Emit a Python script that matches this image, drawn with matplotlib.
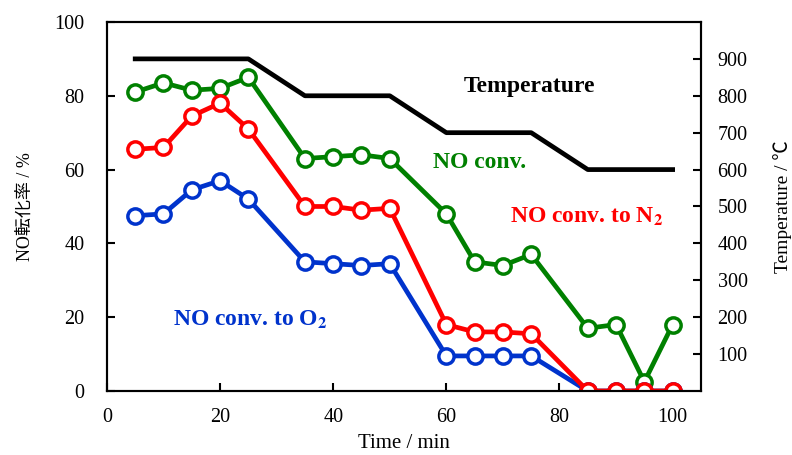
import numpy as np
import matplotlib.pyplot as plt

plt.rcParams['font.family'] = ['Liberation Serif', 'Noto Sans CJK JP']
plt.rcParams['mathtext.fontset'] = 'stix'

# data
time = [5, 10, 15, 20, 25, 35, 40, 45, 50, 60, 65, 70, 75, 85, 90, 95, 100]
no_conv = [81, 83.5, 81.5, 82, 85, 63, 63.5, 64, 63, 48, 35, 34, 37, 17, 18, 2.5, 18]
no_to_n2 = [65.5, 66, 74.5, 78, 71, 50, 50, 49, 49.5, 18, 16, 16, 15.5, 0, 0, 0, 0]
no_to_o2 = [47.5, 48, 54.5, 57, 52, 35, 34.5, 34, 34.5, 9.5, 9.5, 9.5, 9.5, 0, 0, 0, 0]

temp_time = [5, 25, 35, 50, 60, 75, 85, 100]
temp = [900, 900, 800, 800, 700, 700, 600, 600]

fig = plt.figure(figsize=(7.92, 4.55), dpi=100)
ax = fig.add_axes([0.135, 0.1407, 0.75, 0.811])

mk = dict(marker='o', markersize=11, markerfacecolor='white', markeredgewidth=2.5, linewidth=3.4)
ax.plot(time, no_conv, color='#008000', **mk)
ax.plot(time, no_to_o2, color='#0033CC', **mk)
ax.plot(time, no_to_n2, color='#FF0000', **mk)

ax.set_xlim(0, 105)
ax.set_ylim(0, 100)
ax.set_xticks([0, 20, 40, 60, 80, 100])
ax.set_yticks([0, 20, 40, 60, 80, 100])
ax.tick_params(axis='x', direction='in', length=6, width=1.5, labelsize=14.5, pad=12)
ax.tick_params(axis='y', direction='in', length=6, width=1.5, labelsize=14.5, pad=16)
ax.set_xlabel('Time / min', fontsize=15, labelpad=5)
ax.set_ylabel('NO転化率 / %', fontsize=13, labelpad=15)
for s in ax.spines.values():
    s.set_linewidth(1.5)

ax2 = ax.twinx()
ax2.plot(temp_time, temp, color='black', linewidth=3.4)
ax2.set_ylim(0, 1000)
ax2.set_yticks(np.arange(100, 1000, 100))
ax2.tick_params(axis='y', direction='in', length=6, width=1.5, labelsize=14.5, pad=12)
ax2.set_ylabel('Temperature / ℃', fontsize=14, labelpad=18)
for s in ax2.spines.values():
    s.set_linewidth(1.5)

ax.text(74.7, 82.4, 'Temperature', fontsize=17, fontweight='bold', color='black', ha='center', va='center')
ax.text(65.9, 61.8, 'NO conv.', fontsize=17, fontweight='bold', color='#008000', ha='center', va='center')
ax.text(84.8, 47.2, 'NO conv. to N$_\\mathbf{2}$', fontsize=17, fontweight='bold', color='#FF0000', ha='center', va='center')
ax.text(25.3, 19.2, 'NO conv. to O$_\\mathbf{2}$', fontsize=17, fontweight='bold', color='#0033CC', ha='center', va='center')

fig.savefig('out.png', dpi=100)
